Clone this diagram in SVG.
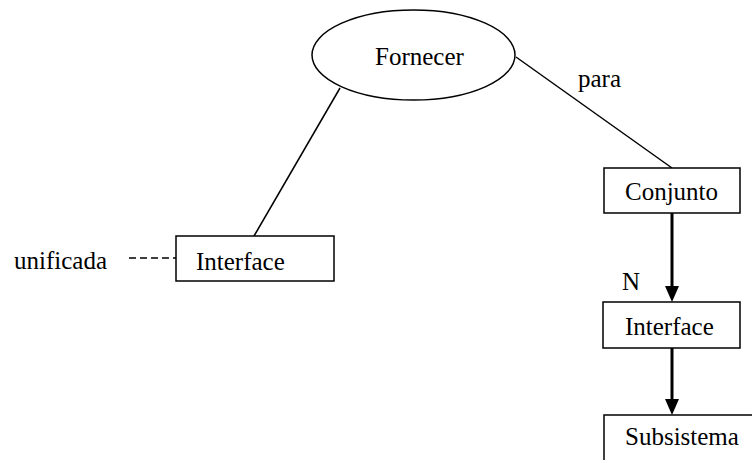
<svg xmlns="http://www.w3.org/2000/svg" width="752" height="460" viewBox="0 0 752 460">
<style>
text{font-family:"Liberation Serif","Times New Roman",serif;font-size:25px;fill:#000}
.box{fill:#fff;stroke:#000;stroke-width:1.5}
.ln{stroke:#000;stroke-width:1.5;fill:none}
.thick{stroke:#000;stroke-width:3;fill:none}
</style>
<rect width="752" height="460" fill="#fff"/>
<g id="connectors">
<line class="ln" x1="340" y1="88" x2="254" y2="236"/>
<line class="ln" x1="516" y1="57" x2="672" y2="168"/>
<line class="ln" x1="129" y1="258" x2="176" y2="258" stroke-width="2" stroke-dasharray="7,4"/>
<line class="thick" x1="672" y1="213" x2="672" y2="286"/>
<path d="M665,286 L679,286 L672,302 Z" fill="#000"/>
<line class="thick" x1="672" y1="348" x2="672" y2="399"/>
<path d="M665,399 L679,399 L672,415 Z" fill="#000"/>
<text x="578" y="87">para</text>
<text x="622" y="290">N</text>
<text x="14" y="269">unificada</text>
</g>
<g id="fornecer">
<ellipse class="box" cx="413.5" cy="55" rx="101.5" ry="45"/>
<text x="375" y="65">Fornecer</text>
</g>
<g id="interface-left">
<rect class="box" x="176" y="236" width="158" height="45"/>
<text x="196" y="270">Interface</text>
</g>
<g id="conjunto">
<rect class="box" x="604" y="168" width="136" height="45"/>
<text x="625" y="200">Conjunto</text>
</g>
<g id="interface-right">
<rect class="box" x="603" y="302" width="137" height="46"/>
<text x="625" y="335">Interface</text>
</g>
<g id="subsistema">
<rect class="box" x="604" y="415" width="150" height="50"/>
<text x="625" y="445">Subsistema</text>
</g>
</svg>
